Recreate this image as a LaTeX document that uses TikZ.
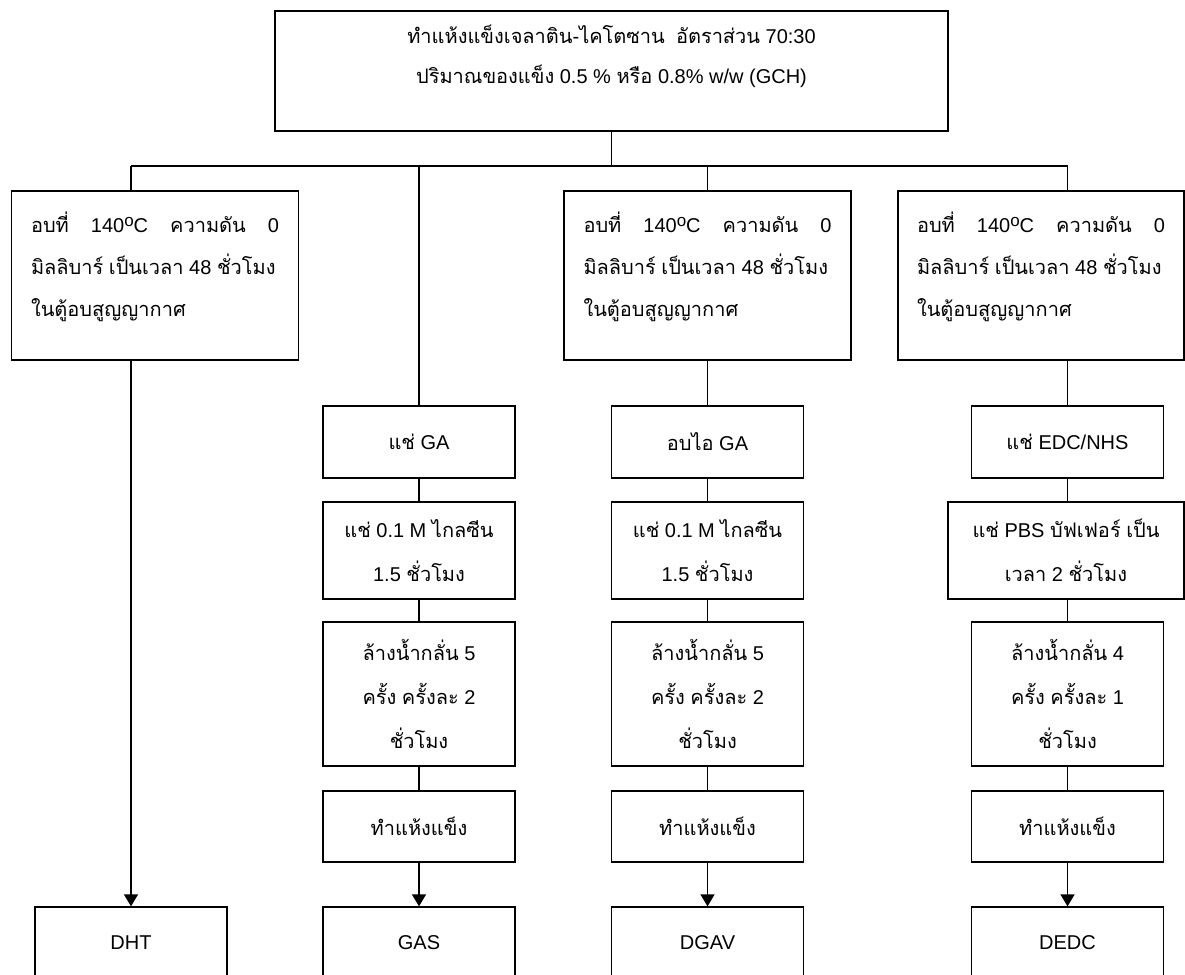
\documentclass[tikz,border=0pt]{standalone}
\usepackage{fontspec}
\setmainfont{Liberation Sans}
\newfontfamily\thaifont[Script=Thai]{Loma}
\XeTeXinterchartokenstate=1
\newXeTeXintercharclass\thaiclass
\newcount\thaicode
\thaicode="0E00
\loop
	\XeTeXcharclass\thaicode=\thaiclass
	\advance\thaicode by 1
\ifnum\thaicode<"0E80 \repeat
\XeTeXinterchartoks 0 \thaiclass = {\thaifont}
\XeTeXinterchartoks 4095 \thaiclass = {\thaifont}
\XeTeXinterchartoks \thaiclass 0 = {\rmfamily}
\XeTeXinterchartoks \thaiclass 4095 = {\rmfamily}
\newcommand{\degc}{\raisebox{6pt}{\fontsize{17}{17}\selectfont o}C}
\usetikzlibrary{arrows.meta,positioning}

\begin{document}
\begin{tikzpicture}[x=1pt,y=-1pt,
	box/.style={draw,line width=1.3pt,inner sep=0pt,align=center,
		font=\fontsize{20}{44}\selectfont},
	stepbox/.style={box,minimum width=192pt},
	tallbox/.style={box,align=left,minimum width=287pt,minimum height=169pt,
		font=\fontsize{20}{42}\selectfont},
	link/.style={line width=1.3pt},
	arr/.style={line width=1.3pt,-{Triangle[length=12pt,width=14pt]}}]
	\useasboundingbox (0,0) rectangle (1185,974);
	\clip (0,0) rectangle (1185,974);

	\node[box,minimum width=673pt,minimum height=120pt,font=\fontsize{20}{40.5}\selectfont] (n0) at (611.5,71)
		{ทำแห้งแข็งเจลาติน-ไคโตซาน~ อัตราส่วน 70:30\\
		ปริมาณของแข็ง 0.5 \% หรือ 0.8\% w/w (GCH)\\[-7pt]\mbox{}};
	\coordinate (bus) at (611.5,166);

	% column 1
	\node[tallbox] (b1) at (155,275.5)
		{\makebox[248pt][s]{อบที่ 140\degc{} ความดัน 0}\\
		มิลลิบาร์ เป็นเวลา 48 ชั่วโมง\\
		ในตู้อบสูญญากาศ\\[-20pt]\mbox{}};
	\node[stepbox,minimum height=72pt] (dht) at (131,943) {DHT};

	% column 2
	\node[stepbox,minimum height=72pt] (ga1) at (419,442) {แช่ GA};
	\node[stepbox,minimum height=97pt] (ga2) at (419,550.5) {แช่ 0.1 M ไกลซีน\\1.5 ชั่วโมง};
	\node[stepbox,minimum height=144pt] (ga3) at (419,694) {ล้างน้ำกลั่น 5\\ครั้ง ครั้งละ 2\\ชั่วโมง};
	\node[stepbox,minimum height=71pt] (ga4) at (419,826.5) {ทำแห้งแข็ง};
	\node[stepbox,minimum height=72pt] (gas) at (419,943) {GAS};

	% column 3
	\node[tallbox] (b3) at (707.5,275.5)
		{\makebox[248pt][s]{อบที่ 140\degc{} ความดัน 0}\\
		มิลลิบาร์ เป็นเวลา 48 ชั่วโมง\\
		ในตู้อบสูญญากาศ\\[-20pt]\mbox{}};
	\node[stepbox,minimum height=72pt] (gv1) at (707.5,442) {อบไอ GA};
	\node[stepbox,minimum height=97pt] (gv2) at (707.5,550.5) {แช่ 0.1 M ไกลซีน\\1.5 ชั่วโมง};
	\node[stepbox,minimum height=144pt] (gv3) at (707.5,694) {ล้างน้ำกลั่น 5\\ครั้ง ครั้งละ 2\\ชั่วโมง};
	\node[stepbox,minimum height=71pt] (gv4) at (707.5,826.5) {ทำแห้งแข็ง};
	\node[stepbox,minimum height=72pt] (dgav) at (707.5,943) {DGAV};

	% column 4
	\node[tallbox,minimum width=286pt] (b4) at (1041,275.5)
		{\makebox[248pt][s]{อบที่ 140\degc{} ความดัน 0}\\
		มิลลิบาร์ เป็นเวลา 48 ชั่วโมง\\
		ในตู้อบสูญญากาศ\\[-20pt]\mbox{}};
	\node[stepbox,minimum height=72pt] (ed1) at (1067.5,442) {แช่ EDC/NHS};
	\node[stepbox,minimum width=236pt,minimum height=97pt] (ed2) at (1066,550.5) {แช่ PBS บัฟเฟอร์ เป็น\\เวลา 2 ชั่วโมง};
	\node[stepbox,minimum height=144pt] (ed3) at (1067.5,694) {ล้างน้ำกลั่น 4\\ครั้ง ครั้งละ 1\\ชั่วโมง};
	\node[stepbox,minimum height=71pt] (ed4) at (1067.5,826.5) {ทำแห้งแข็ง};
	\node[stepbox,minimum height=72pt] (dedc) at (1067.5,943) {DEDC};

	\draw[link] (n0.south) -- (bus);
	\draw[link] (dht.north |- bus) -- (ed1.north |- bus);
	\draw[link] (dht.north |- bus) -- (dht.north |- b1.north);
	\draw[link] (ga1.north |- bus) -- (ga1.north);
	\draw[link] (b3.north |- bus) -- (b3.north);
	\draw[link] (ed1.north |- bus) -- (ed1.north |- b4.north);

	\draw[arr] (dht.north |- b1.south) -- (dht.north);
	\draw[link] (ga1) -- (ga2) -- (ga3) -- (ga4);
	\draw[arr] (ga4) -- (gas);
	\draw[link] (b3) -- (gv1) -- (gv2) -- (gv3) -- (gv4);
	\draw[arr] (gv4) -- (dgav);
	\draw[link] (ed1.north |- b4.south) -- (ed1.north);
	\draw[link] (ed1) -- (ed2.north -| ed1.south);
	\draw[link] (ed2.south -| ed3.north) -- (ed3) -- (ed4);
	\draw[arr] (ed4) -- (dedc);
\end{tikzpicture}
\end{document}
